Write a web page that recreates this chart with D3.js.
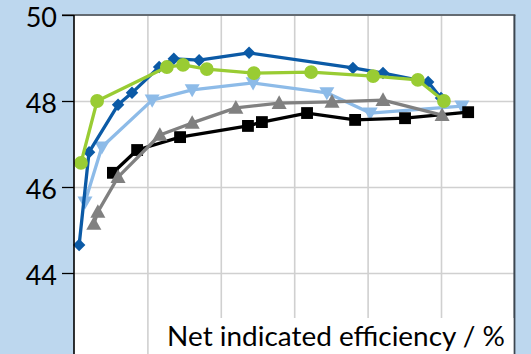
<!DOCTYPE html>
<html><head><meta charset="utf-8">
<script src="https://cdn.jsdelivr.net/npm/d3@7"></script>
<style>
html,body{margin:0;padding:0;background:#bdd7ee;}
svg{display:block;}
</style></head>
<body>
<svg id="c" width="531" height="354"></svg>
<script>
// ---- data (x in arbitrary axis units 0..12, y = efficiency %) ----
const yTicks = [44, 46, 48, 50];
const xGrid = [2, 4, 6, 8, 10];
const xLabel = "Net indicated efficiency / %";

const darkBlueX = [0.14, 0.41, 1.20, 1.58, 2.32, 2.72, 3.41, 4.77, 7.60, 8.42, 9.65, 10.0];
const darkBlueY = [44.65, 46.81, 47.91, 48.19, 48.79, 48.98, 48.95, 49.12, 48.77, 48.65, 48.44, 48.07];

const greenX = [0.19, 0.63, 2.53, 2.97, 3.62, 4.90, 6.46, 8.15, 9.37, 10.08];
const greenY = [46.56, 48.00, 48.79, 48.84, 48.74, 48.65, 48.67, 48.58, 48.49, 48.00];

const lightBlueX = [0.30, 0.76, 2.13, 3.22, 4.88, 6.89, 8.07, 10.57];
const lightBlueY = [45.65, 46.93, 48.02, 48.26, 48.42, 48.19, 47.72, 47.88];

const grayX = [0.54, 0.65, 1.20, 2.34, 3.22, 4.41, 5.59, 7.03, 8.42, 10.03];
const grayY = [45.14, 45.42, 46.23, 47.21, 47.49, 47.84, 47.95, 47.98, 48.02, 47.67];

const blackX = [1.06, 1.72, 2.89, 4.74, 5.12, 6.35, 7.66, 9.02, 10.74];
const blackY = [46.33, 46.86, 47.16, 47.42, 47.51, 47.72, 47.56, 47.60, 47.74];

// ---- layout ----
const svg = d3.select("#c");
const L = 74, R = 514.4, T = 15, B = 359;
const x = d3.scaleLinear().domain([0, 12]).range([L, R]);
const y = d3.scaleLinear().domain([42, 50]).range([B, T]);

// plot background
svg.append("rect").attr("x", L).attr("y", T).attr("width", R - L).attr("height", B - T).attr("fill", "#fff");

// vertical gridlines
svg.append("g").attr("transform", `translate(0,${B})`)
  .call(d3.axisBottom(x).tickValues(xGrid).tickSize(-(B - T)).tickFormat(""))
  .call(g => g.select(".domain").remove())
  .call(g => g.selectAll("line").attr("stroke", "#d0d0d0").attr("stroke-width", 1.6));

// horizontal gridlines
svg.append("g").attr("transform", `translate(${L},0)`)
  .call(d3.axisLeft(y).tickValues(yTicks.filter(v => v < 50)).tickSize(-(R - L)).tickFormat(""))
  .call(g => g.select(".domain").remove())
  .call(g => g.selectAll("line").attr("stroke", "#d0d0d0").attr("stroke-width", 1.6));

// custom marker shapes
const diamond = { draw(ctx, size) { const r = Math.sqrt(size) / 2 * 1.25; ctx.moveTo(0, -r); ctx.lineTo(r, 0); ctx.lineTo(0, r); ctx.lineTo(-r, 0); ctx.closePath(); } };
const triUp = { draw(ctx, s) { const h = s; ctx.moveTo(0, -h * 0.6); ctx.lineTo(h * 0.58, h * 0.45); ctx.lineTo(-h * 0.58, h * 0.45); ctx.closePath(); } };
const triDown = { draw(ctx, s) { const h = s; ctx.moveTo(0, h * 0.6); ctx.lineTo(h * 0.6, -h * 0.45); ctx.lineTo(-h * 0.6, -h * 0.45); ctx.closePath(); } };

const series = [
  { xs: lightBlueX, ys: lightBlueY, color: "#8dbbe8", sym: d3.symbol().type(triDown).size(12.5) },
  { xs: blackX, ys: blackY, color: "#000000", sym: d3.symbol().type(d3.symbolSquare).size(140) },
  { xs: grayX, ys: grayY, color: "#808080", sym: d3.symbol().type(triUp).size(13) },
  { xs: darkBlueX, ys: darkBlueY, color: "#0b5aa6", sym: d3.symbol().type(diamond).size(100) },
  { xs: greenX, ys: greenY, color: "#99cc33", sym: d3.symbol().type(d3.symbolCircle).size(150) }
];

const line = d3.line().x(d => x(d[0])).y(d => y(d[1]));
series.forEach(s => {
  const pts = s.xs.map((v, i) => [v, s.ys[i]]);
  const g = svg.append("g");
  g.append("path").attr("d", line(pts)).attr("fill", "none").attr("stroke", s.color).attr("stroke-width", 3.3).attr("stroke-linejoin", "round");
  g.selectAll("path.m").data(pts).join("path").attr("class", "m")
    .attr("transform", d => `translate(${x(d[0])},${y(d[1])})`)
    .attr("d", s.sym).attr("fill", s.color);
});

// top and right borders
svg.append("line").attr("x1", 62).attr("x2", R + 1).attr("y1", T).attr("y2", T).attr("stroke", "#646b72").attr("stroke-width", 2.2);
svg.append("line").attr("x1", R).attr("x2", R).attr("y1", T).attr("y2", 354).attr("stroke", "#3c4650").attr("stroke-width", 2);

// y axis
svg.append("g").attr("transform", `translate(${L},0)`)
  .call(d3.axisLeft(y).tickValues(yTicks).tickSize(12).tickPadding(5))
  .call(g => g.select(".domain").attr("d", `M0,${T}V${B}`).attr("stroke", "#000").attr("stroke-width", 1.6))
  .call(g => g.selectAll(".tick line").attr("stroke", "#000").attr("stroke-width", 1.3))
  .call(g => g.selectAll(".tick text").attr("font-family", "Lato, 'Open Sans', sans-serif").attr("font-size", 27).attr("fill", "#000").attr("dy", "0.42em"));

// x label with white backing
const lbl = svg.append("g");
lbl.append("rect").attr("x", 156).attr("y", 318).attr("width", R - 157).attr("height", 40).attr("fill", "#fff");
const t = lbl.append("text").attr("x", 505).attr("y", 346).attr("text-anchor", "end")
  .attr("font-family", "Lato, 'Open Sans', sans-serif").attr("font-size", 27).attr("fill", "#000").text(xLabel);
const w = t.node().getComputedTextLength();
t.attr("font-size", 27 * 338 / w);
</script>
</body></html>
